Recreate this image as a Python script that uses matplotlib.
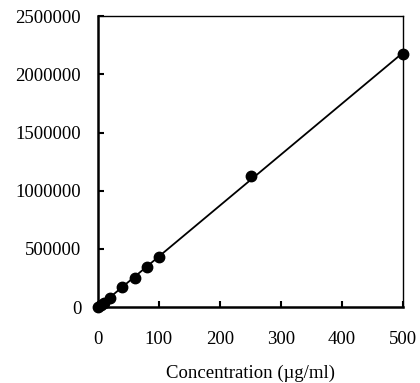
import numpy as np
from matplotlib import pyplot as plt
from matplotlib.ticker import FuncFormatter

plt.rcParams['font.family'] = ['Liberation Serif', 'DejaVu Serif']

conc = [0, 5, 10, 20, 40, 60, 80, 100, 250, 500]
area = [0, 20000, 40000, 83000, 169000, 252000, 344000, 432000, 1128000, 2172000]

slope, icpt = np.polyfit(conc, area, 1)
fit_x = np.array([0, 500])
fit_y = slope * fit_x + icpt

fig = plt.figure(figsize=(4.2, 3.83), dpi=100)
ax = fig.add_axes([0.233, 0.198, 0.727, 0.76])

ax.plot(fit_x, fit_y, color="black", lw=1.3, zorder=2)
ax.plot(conc, area, "o", color="black", ms=7.5, zorder=3, clip_on=False)

ax.set_xlim(0, 500)
ax.set_ylim(0, 2500000)
ax.set_xticks(range(0, 501, 100))
ax.set_yticks(range(0, 2500001, 500000))
ax.yaxis.set_major_formatter(FuncFormatter(lambda v, p: "%d" % v))
ax.tick_params(direction="in", length=4, width=1.5, labelsize=13.5)
ax.tick_params(axis="x", pad=17)
ax.tick_params(axis="y", pad=12)

for s in ["left", "bottom"]:
    ax.spines[s].set_linewidth(1.8)
for s in ["top", "right"]:
    ax.spines[s].set_linewidth(1.0)

ax.set_xlabel("Concentration (\u00b5g/ml)", fontsize=13.5, labelpad=12)

fig.savefig("out.png", dpi=100)
